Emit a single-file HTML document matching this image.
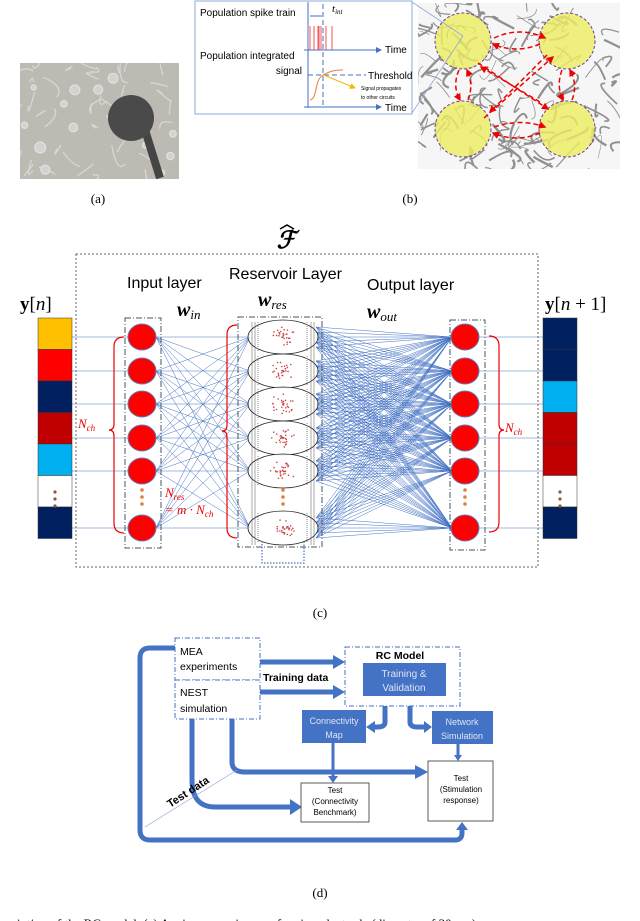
<!DOCTYPE html>
<html><head><meta charset="utf-8"><style>
html,body{margin:0;padding:0;background:#fff;}
svg{display:block;}
text{font-family:"Liberation Sans",sans-serif;}
.serif{font-family:"Liberation Serif",serif;}
</style></head><body>
<svg id="s" width="640" height="921" viewBox="0 0 640 921" xmlns="http://www.w3.org/2000/svg">
<defs>
<clipPath id="ca"><rect x="20" y="63" width="159" height="116"/></clipPath>
<clipPath id="cb"><rect x="418" y="3" width="202" height="166"/></clipPath>
<marker id="ar" markerWidth="5" markerHeight="5" refX="4" refY="2.5" orient="auto"><path d="M0,0 L5,2.5 L0,5 z" fill="#e00"/></marker>
<marker id="ay" markerWidth="6" markerHeight="6" refX="5" refY="3" orient="auto"><path d="M0,0 L6,3 L0,6 z" fill="#f5b800"/></marker>
<marker id="at" markerWidth="6" markerHeight="6" refX="5" refY="3" orient="auto"><path d="M0,0 L6,3 L0,6 z" fill="#4472c4"/></marker>
</defs>
<!-- (a) -->
<rect x="20" y="63" width="159" height="116" fill="#bdbab4"/>
<g id="acells" stroke="#e8e6e2" stroke-width="1.2" fill="none" opacity="0.7" clip-path="url(#ca)"></g>
<line x1="145" y1="130" x2="160" y2="178" stroke="#454545" stroke-width="8"/>
<circle cx="131" cy="118" r="23" fill="#4a4a4a"/>
<text x="98" y="203" class="serif" font-size="13" text-anchor="middle">(a)</text>
<!-- (b) -->
<rect x="418" y="3" width="202" height="166" fill="#f6f6f6"/>
<g id="mesh" stroke="#777" fill="none" opacity="0.8" clip-path="url(#cb)"></g>
<g fill="#eded60" fill-opacity="0.8" stroke="#6a3fa0" stroke-dasharray="3,2" stroke-width="1">
<circle cx="463" cy="41" r="28"/><circle cx="567" cy="41" r="28"/>
<circle cx="463" cy="129" r="28"/><circle cx="567" cy="129" r="28"/></g>
<g stroke="#e00" stroke-width="1.5" stroke-dasharray="5,3" fill="none" marker-end="url(#ar)">
<path d="M494,38 Q520,26 545,38"/><path d="M540,44 Q516,54 493,44"/>
<path d="M494,127 Q520,118 545,127"/><path d="M540,133 Q516,143 493,133"/>
<path d="M459,70 Q452,86 460,100"/><path d="M468,100 Q474,85 467,70"/>
<path d="M562,70 Q556,86 563,100"/><path d="M572,100 Q578,85 570,70"/>
<path d="M478,63 L548,109"/><path d="M540,102 L481,67"/>
<path d="M484,118 L553,57"/><path d="M547,55 L490,112"/>
</g>
<rect x="195" y="1" width="217" height="113" fill="#fff" stroke="#8ea9db" stroke-width="1"/>
<line x1="412" y1="2" x2="463" y2="36" stroke="#8ea9db" stroke-width="0.8"/>
<line x1="412" y1="113" x2="463" y2="36" stroke="#8ea9db" stroke-width="0.8"/>
<text x="200" y="16" font-size="10">Population spike train</text>
<text x="200" y="59" font-size="10">Population integrated</text>
<text x="302" y="74" font-size="10" text-anchor="end">signal</text>
<line x1="308" y1="2" x2="308" y2="108" stroke="#4472c4"/>
<line x1="304" y1="50" x2="381" y2="50" stroke="#4472c4" marker-end="url(#at)"/>
<line x1="304" y1="107" x2="381" y2="107" stroke="#4472c4" marker-end="url(#at)"/>
<text x="385" y="53" font-size="10">Time</text>
<text x="385" y="111" font-size="10">Time</text>
<line x1="323" y1="4" x2="323" y2="108" stroke="#4472c4" stroke-dasharray="5,3"/>
<line x1="310" y1="16" x2="322" y2="16" stroke="#4472c4"/>
<text x="332" y="12" class="serif" font-size="11" font-style="italic">t<tspan font-size="7" dy="2">int</tspan></text>
<g stroke="#e44" stroke-width="0.9"><line x1="310" y1="26" x2="310" y2="50"/><line x1="314" y1="26" x2="314" y2="50"/><line x1="318" y1="26" x2="318" y2="50"/><line x1="319" y1="26" x2="319" y2="50"/><line x1="321" y1="26" x2="321" y2="50"/><line x1="326" y1="26" x2="326" y2="50"/><line x1="332" y1="26" x2="332" y2="50"/></g>
<line x1="308" y1="75" x2="366" y2="75" stroke="#4472c4" stroke-dasharray="5,3"/>
<text x="368" y="79" font-size="10">Threshold</text>
<path d="M310,100 C318,98 314,80 323,75 S338,70 343,70" stroke="#ed7d31" fill="none" stroke-width="1"/>
<line x1="324" y1="75" x2="355" y2="88" stroke="#f5b800" stroke-width="1" marker-end="url(#ay)"/>
<text x="361" y="90" font-size="5">Signal propagates</text>
<text x="361" y="99" font-size="5">to other circuits</text>
<text x="410" y="203" class="serif" font-size="13" text-anchor="middle">(b)</text>
<!-- (c) -->
<rect x="76" y="254" width="462" height="313" fill="none" stroke="#666" stroke-dasharray="2,2"/>
<text x="286" y="248" class="serif" font-size="24" font-weight="bold" font-style="italic" text-anchor="middle">ℱ</text>
<path d="M280,229 L287,225 L294,229" fill="none" stroke="#000" stroke-width="1.5"/>
<text x="20" y="310" class="serif" font-size="19"><tspan font-weight="bold">y</tspan>[<tspan font-style="italic">n</tspan>]</text>
<text x="545" y="310" class="serif" font-size="19"><tspan font-weight="bold">y</tspan>[<tspan font-style="italic">n</tspan> + 1]</text>
<text x="127" y="288" font-size="16">Input layer</text>
<text x="229" y="279" font-size="16">Reservoir Layer</text>
<text x="367" y="290" font-size="16">Output layer</text>
<text x="177" y="316" class="serif" font-size="20" font-weight="bold" font-style="italic">w<tspan font-size="13" font-weight="normal" dy="3">in</tspan></text>
<text x="258" y="306" class="serif" font-size="20" font-weight="bold" font-style="italic">w<tspan font-size="13" font-weight="normal" dy="3">res</tspan></text>
<text x="367" y="318" class="serif" font-size="20" font-weight="bold" font-style="italic">w<tspan font-size="13" font-weight="normal" dy="3">out</tspan></text>
<g id="lines" stroke="#4472c4" stroke-width="0.5" fill="none"></g>
<g id="cols"></g>
<g id="nodes"></g>
<rect x="125" y="318" width="36" height="230" fill="none" stroke="#44546a" stroke-dasharray="6,2,1,2"/>
<rect x="238" y="317" width="84" height="230" fill="none" stroke="#44546a" stroke-dasharray="6,2,1,2"/>
<rect x="450" y="320" width="35" height="230" fill="none" stroke="#44546a" stroke-dasharray="6,2,1,2"/>
<path d="M262,541 L262,563 L304,563 L304,541" fill="none" stroke="#4472c4" stroke-dasharray="1.5,1.5" stroke-width="1.2"/>
<g stroke="#e00" stroke-width="1.2" fill="none">
<path d="M124,337 Q114,337 114,347 L114,424 Q114,430 109,430 Q114,430 114,436 L114,523 Q114,533 124,533"/>
<path d="M237,325 Q227,325 227,335 L227,425 Q227,431 222,431 Q227,431 227,437 L227,528 Q227,538 237,538"/>
<path d="M489,336 Q499,336 499,346 L499,424 Q499,430 504,430 Q499,430 499,436 L499,522 Q499,532 489,532"/>
</g>
<text x="78" y="428" class="serif" font-size="13" font-style="italic" fill="#e00">N<tspan font-size="9" dy="3">ch</tspan></text>
<text x="505" y="432" class="serif" font-size="13" font-style="italic" fill="#e00">N<tspan font-size="9" dy="3">ch</tspan></text>
<text x="165" y="497" class="serif" font-size="13" font-style="italic" fill="#e00">N<tspan font-size="9" dy="3">res</tspan></text>
<text x="165" y="514" class="serif" font-size="13" font-style="italic" fill="#e00">= m · N<tspan font-size="9" dy="3">ch</tspan></text>
<text x="320" y="617" class="serif" font-size="13" text-anchor="middle">(c)</text>
<!-- (d) -->
<g fill="none" stroke="#4472c4" stroke-width="5" stroke-linejoin="round">
<path d="M175,648 L150,648 Q140,648 140,658 L140,830 Q140,840 150,840 L455,840 Q462,840 462,833 L462,828"/>
<path d="M192,719 L192,780 Q192,807 215,807 L290,807"/>
<path d="M232,719 L232,762 Q232,772 245,772 L415,772"/>
<path d="M260,662 L333,662"/><path d="M260,692 L333,692"/>
<path d="M333,743 L333,776" stroke-width="3"/>
<path d="M458,744 L458,755" stroke-width="3"/>
<path d="M385,706 L385,722 Q385,727 378,727 L374,727"/>
<path d="M410,706 L410,722 Q410,727 417,727 L424,727"/>
</g>
<g fill="#4472c4">
<path d="M333,655 L345,662 L333,669z"/><path d="M333,685 L345,692 L333,699z"/>
<path d="M290,799 L302,807 L290,815z"/><path d="M415,765 L428,772 L415,779z"/>
<path d="M456,830 L462,822 L468,830z"/>
<path d="M328,776 L333,783 L338,776z"/><path d="M454,755 L458,761 L462,755z"/>
<path d="M375,721 L366,727 L375,733z"/><path d="M424,721 L432,727 L424,733z"/>
</g>
<line x1="145" y1="827" x2="237" y2="770" stroke="#8ea9db" stroke-width="0.7"/>
<text x="190" y="795" font-size="11" font-weight="bold" transform="rotate(-33 190 795)" text-anchor="middle">Test data</text>
<rect x="175" y="638" width="85" height="42" fill="#fff" stroke="#4472c4" stroke-dasharray="5,2,1,2"/>
<rect x="175" y="680" width="85" height="39" fill="#fff" stroke="#4472c4" stroke-dasharray="5,2,1,2"/>
<text x="180" y="655" font-size="10.5">MEA</text><text x="180" y="670" font-size="10.5">experiments</text>
<text x="180" y="696" font-size="10.5">NEST</text><text x="180" y="712" font-size="10.5">simulation</text>
<text x="263" y="681" font-size="10.5" font-weight="bold">Training data</text>
<rect x="345" y="647" width="115" height="59" fill="#fff" stroke="#4472c4" stroke-dasharray="5,2,1,2"/>
<text x="400" y="659" font-size="10.5" font-weight="bold" text-anchor="middle">RC Model</text>
<rect x="363" y="663" width="83" height="33" fill="#4472c4"/>
<text x="404" y="677" font-size="10" fill="#dde6f5" text-anchor="middle">Training &amp;</text>
<text x="404" y="691" font-size="10" fill="#dde6f5" text-anchor="middle">Validation</text>
<rect x="302" y="710" width="64" height="33" fill="#4472c4"/>
<text x="334" y="724" font-size="9" fill="#dde6f5" text-anchor="middle">Connectivity</text>
<text x="334" y="738" font-size="9" fill="#dde6f5" text-anchor="middle">Map</text>
<rect x="432" y="711" width="61" height="33" fill="#4472c4"/>
<text x="462" y="725" font-size="9" fill="#dde6f5" text-anchor="middle">Network</text>
<text x="462" y="739" font-size="9" fill="#dde6f5" text-anchor="middle">Simulation</text>
<rect x="301" y="783" width="68" height="39" fill="#fff" stroke="#333" stroke-width="0.8"/>
<text x="335" y="793" font-size="8" text-anchor="middle">Test</text>
<text x="335" y="804" font-size="8" text-anchor="middle">(Connectivity</text>
<text x="335" y="815" font-size="8" text-anchor="middle">Benchmark)</text>
<rect x="428" y="761" width="65" height="60" fill="#fff" stroke="#333" stroke-width="0.8"/>
<text x="461" y="781" font-size="8" text-anchor="middle">Test</text>
<text x="461" y="792" font-size="8" text-anchor="middle">(Stimulation</text>
<text x="461" y="803" font-size="8" text-anchor="middle">response)</text>
<text x="320" y="897" class="serif" font-size="13" text-anchor="middle">(d)</text>
<text x="-4" y="928" class="serif" font-size="13">escription of the RC model. (a) A microscope image of amicroelectrode (diameter of 30 μm)</text>
</svg>
<script>
var NS="http://www.w3.org/2000/svg";
function el(p,t,a){var e=document.createElementNS(NS,t);for(var k in a)e.setAttribute(k,a[k]);document.getElementById(p).appendChild(e);return e;}
var sd=7;function R(){sd=(sd*9301+49297)%233280;return sd/233280;}
for(var i=0;i<40;i++){var x=20+R()*159,y=63+R()*116;el('acells','path',{d:'M'+x+','+y+' q'+(R()*30-15)+','+(R()*30-15)+' '+(R()*40-20)+','+(R()*40-20)});}
for(var i=0;i<14;i++){el('acells','circle',{cx:20+R()*159,cy:63+R()*116,r:2+R()*4,fill:'#ddd','stroke':'#f2f2f2'});}
for(var i=0;i<160;i++){var x=418+R()*202,y=3+R()*166;el('mesh','path',{d:'M'+x+','+y+' q'+(R()*30-15)+','+(R()*30-15)+' '+(R()*44-22)+','+(R()*44-22),'stroke-width':(0.6+R()*1.8).toFixed(1)});}
var ys=[318,349.5,381,412.5,444,475.5,507,538.5];
var lc=['#ffc000','#ff0000','#002060','#c00000','#00b0f0','#fff','#002060'];
var rc=['#002060','#002060','#00b0f0','#c00000','#c00000','#fff','#002060'];
for(var i=0;i<7;i++){el('cols','rect',{x:38,y:ys[i],width:34,height:31.5,fill:lc[i],stroke:'#333','stroke-width':0.5});el('cols','rect',{x:543,y:ys[i],width:34,height:31.5,fill:rc[i],stroke:'#333','stroke-width':0.5});}
[492,499,506].forEach(function(y){el('cols','circle',{cx:55,cy:y,r:1.6,fill:'#8a5a3a'});el('cols','circle',{cx:560,cy:y,r:1.6,fill:'#8a5a3a'});});
var ny=[337,371,404,438,471,528];
ny.forEach(function(y){el('lines','line',{x1:72,y1:y,x2:142,y2:y});el('lines','line',{x1:465,y1:y,x2:543,y2:y});
 ny.forEach(function(y2){el('lines','line',{x1:156,y1:y,x2:250,y2:y2});});
 for(var k=-2;k<=2;k++){ny.forEach(function(y2){el('lines','line',{x1:316,y1:y+k*5,x2:452,y2:y2});});}
});
ny.forEach(function(y){
 el('nodes','ellipse',{cx:142,cy:y,rx:14,ry:13,fill:'#ff0000',stroke:'#5b7fbf','stroke-width':1});
 el('nodes','ellipse',{cx:465,cy:y,rx:14,ry:13,fill:'#ff0000',stroke:'#5b7fbf','stroke-width':1});
 el('nodes','ellipse',{cx:283,cy:y,rx:35,ry:17,fill:'#fff','fill-opacity':0.85,stroke:'#222','stroke-width':0.8});
 for(var k=0;k<30;k++){var a=R()*6.28,r=R()*10;el('nodes','circle',{cx:283+Math.cos(a)*r*1.3,cy:y+Math.sin(a)*r,r:0.8,fill:'#c44'});}
 el('nodes','line',{x1:258,y1:y-15,x2:258,y2:y+15,stroke:'#888','stroke-dasharray':'1,1'});
 el('nodes','line',{x1:307,y1:y-15,x2:307,y2:y+15,stroke:'#888','stroke-dasharray':'1,1'});
});
[252,255,311,314].forEach(function(x){el('nodes','line',{x1:x,y1:322,x2:x,y2:545,stroke:'#555','stroke-width':0.5});});
[490,497,504].forEach(function(y){el('nodes','circle',{cx:142,cy:y,r:1.8,fill:'#e08040'});el('nodes','circle',{cx:283,cy:y,r:1.8,fill:'#e08040'});el('nodes','circle',{cx:465,cy:y,r:1.8,fill:'#e08040'});});
</script>
</body></html>
